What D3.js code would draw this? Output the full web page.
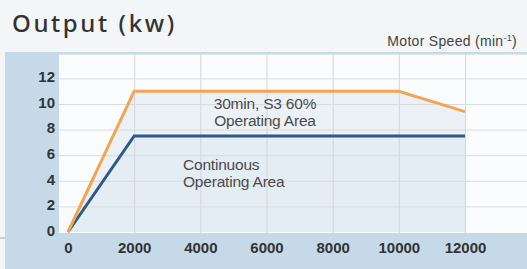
<!DOCTYPE html>
<html lang="en">
<head>
  <meta charset="UTF-8">
  <title>Output (kw)</title>
  <script src="https://d3js.org/d3.v7.min.js"></script>
  <style>
    body { margin: 0; background: #f3f5f7; }
    svg { display: block; }
  </style>
</head>
<body>
  <div id="container"></div>
  <script>
    // motor speed (min-1) and output (kw)
    const speedTicks = [0, 2000, 4000, 6000, 8000, 10000, 12000]
    const outputTicks = [0, 2, 4, 6, 8, 10, 12]
    const s3Speed = [0, 2000, 10000, 12000]
    const s3Output = [0, 11, 11, 9.4]
    const contSpeed = [0, 2000, 12000]
    const contOutput = [0, 7.5, 7.5]

    const W = 527, H = 269

    const svg = d3.select('#container').append('svg')
      .attr('width', W)
      .attr('height', H)
      .style('background-color', '#f3f5f7')

    const x = d3.scaleLinear().domain([0, 12000]).range([68, 465])
    const y = d3.scaleLinear().domain([0, 12]).range([232, 78.4])

    const plotLeft = 59, plotTop = 54, plotBottom = 233

    // blue frame behind the plot
    svg.append('rect')
      .attr('x', 5).attr('y', 52)
      .attr('width', W - 5).attr('height', H - 52)
      .attr('fill', '#c6d9e8')
    svg.append('line')
      .attr('x1', 0).attr('x2', 5).attr('y1', 238).attr('y2', 238)
      .attr('stroke', '#9aa6b0')

    // plot background
    svg.append('rect')
      .attr('x', plotLeft).attr('y', plotTop)
      .attr('width', W - plotLeft).attr('height', plotBottom - plotTop)
      .attr('fill', '#fbfcfd')

    const s3 = s3Speed.map((s, i) => [s, s3Output[i]])
    const cont = contSpeed.map((s, i) => [s, contOutput[i]])

    const area = d3.area()
      .x(d => x(d[0]))
      .y0(y(0))
      .y1(d => y(d[1]))

    svg.append('path')
      .attr('d', area(s3))
      .attr('fill', '#ebf1f6')
    svg.append('path')
      .attr('d', area(cont))
      .attr('fill', '#e5edf4')

    // grid via axes
    svg.append('g')
      .attr('transform', `translate(0,${plotBottom})`)
      .call(d3.axisBottom(x).tickValues(speedTicks.slice(1))
        .tickSize(-(plotBottom - plotTop)).tickFormat(''))
      .call(g => g.select('.domain').remove())
      .call(g => g.selectAll('line').attr('stroke', '#cfd6dd'))

    svg.append('g')
      .attr('transform', `translate(${W},0)`)
      .call(d3.axisLeft(y).tickValues(outputTicks.slice(1))
        .tickSize(W - plotLeft).tickFormat(''))
      .call(g => g.select('.domain').remove())
      .call(g => g.selectAll('line').attr('stroke', '#d6dce2'))

    svg.append('line')
      .attr('x1', plotLeft).attr('x2', W)
      .attr('y1', plotTop).attr('y2', plotTop)
      .attr('stroke', '#cfd6dd')

    // tick labels
    svg.append('g')
      .attr('transform', `translate(0,${plotBottom})`)
      .call(d3.axisBottom(x).tickValues(speedTicks).tickFormat(d3.format('d'))
        .tickSize(0).tickPadding(9))
      .call(g => g.select('.domain').remove())
      .call(g => g.selectAll('text')
        .attr('font-family', 'Liberation Sans, Arial, sans-serif')
        .attr('font-size', 15)
        .attr('font-weight', 'bold')
        .attr('fill', '#333'))

    svg.append('g')
      .attr('transform', 'translate(55,-1.5)')
      .call(d3.axisLeft(y).tickValues(outputTicks).tickSize(0).tickPadding(0))
      .call(g => g.select('.domain').remove())
      .call(g => g.selectAll('text')
        .attr('font-family', 'Liberation Sans, Arial, sans-serif')
        .attr('font-size', 15)
        .attr('font-weight', 'bold')
        .attr('fill', '#333'))

    // lines
    const line = d3.line().x(d => x(d[0])).y(d => y(d[1]))
    svg.append('path')
      .attr('d', line(cont))
      .attr('fill', 'none')
      .attr('stroke', '#2c5a8a')
      .attr('stroke-width', 3)
    svg.append('path')
      .attr('d', line(s3))
      .attr('fill', 'none')
      .attr('stroke', '#f2a553')
      .attr('stroke-width', 3)

    // annotations
    const note = (lines, tx, ty, anchor) => {
      const t = svg.append('text')
        .attr('font-family', 'Liberation Sans, Arial, sans-serif')
        .attr('font-size', 15.5)
        .attr('letter-spacing', -0.2)
        .attr('fill', '#4a4a4a')
        .attr('text-anchor', anchor)
      lines.forEach((s, i) => {
        t.append('tspan').attr('x', tx).attr('y', ty + i * 16.5).text(s)
      })
    }
    note(['30min, S3 60%', 'Operating Area'], 265, 109, 'middle')
    note(['Continuous', 'Operating Area'], 183, 170, 'start')

    // titles
    svg.append('text')
      .attr('x', 12).attr('y', 32)
      .attr('font-family', 'Noto Sans, sans-serif')
      .attr('font-size', 24)
      .attr('font-weight', 500)
      .attr('letter-spacing', 2.6)
      .attr('fill', '#333')
      .text('Output (kw)')

    const ms = svg.append('text')
      .attr('x', 517).attr('y', 46)
      .attr('text-anchor', 'end')
      .attr('font-family', 'Liberation Sans, Arial, sans-serif')
      .attr('font-size', 14)
      .attr('letter-spacing', 0.3)
      .attr('fill', '#444')
    ms.append('tspan').text('Motor Speed (min')
    ms.append('tspan').attr('dy', -5).attr('font-size', 9).text('-1')
    ms.append('tspan').attr('dy', 5).text(')')
  </script>
</body>
</html>
